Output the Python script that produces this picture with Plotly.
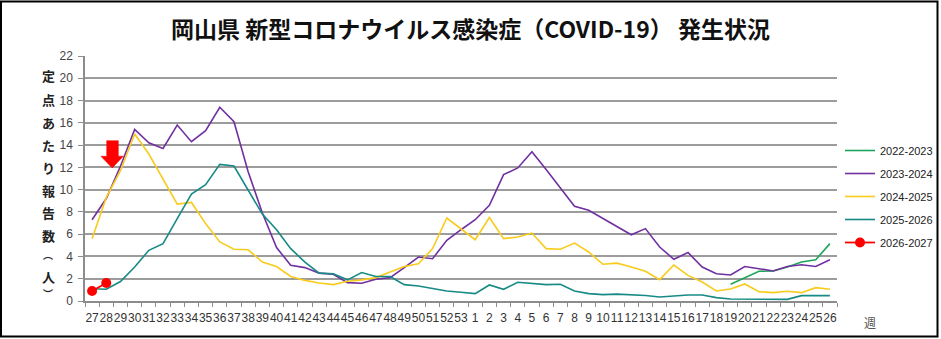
import plotly.graph_objects as go

week_labels = ["27", "28", "29", "30", "31", "32", "33", "34", "35", "36", "37", "38", "39", "40",
               "41", "42", "43", "44", "45", "46", "47", "48", "49", "50", "51", "52", "53",
               "1", "2", "3", "4", "5", "6", "7", "8", "9", "10", "11", "12", "13", "14", "15",
               "16", "17", "18", "19", "20", "21", "22", "23", "24", "25", "26"]

s2022_2023 = [None] * 45 + [1.5, 2.1, 2.67, 2.7, 3.05, 3.5, 3.7, 5.15]

s2023_2024 = [7.3, 9.2, 12.1, 15.4, 14.2, 13.7, 15.8, 14.3, 15.3, 17.4, 16.1, 11.6, 7.9, 4.8,
              3.2, 3.0, 2.5, 2.4, 1.65, 1.6, 1.95, 2.1, 3.0, 3.95, 3.8, 5.45, 6.4,
              7.3, 8.6, 11.35, 11.95, 13.4, 11.8, 10.1, 8.5, 8.15, 7.4, 6.7, 5.95, 6.5, 4.85,
              3.75, 4.35, 3.05, 2.45, 2.33, 3.1, 2.9, 2.7, 3.1, 3.25, 3.1, 3.7]

s2024_2025 = [5.6, 9.3, 11.7, 15.0, 13.2, 11.0, 8.7, 8.85, 6.95, 5.3, 4.65, 4.6, 3.5, 3.1,
              2.2, 1.85, 1.62, 1.47, 1.77, 1.9, 2.1, 2.6, 3.1, 3.35, 4.7, 7.45, 6.5,
              5.5, 7.5, 5.6, 5.75, 6.1, 4.7, 4.65, 5.2, 4.4, 3.3, 3.4, 3.05, 2.67, 1.92,
              3.23, 2.3, 1.7, 0.9, 1.08, 1.53, 0.84, 0.75, 0.87, 0.75, 1.2, 1.05]

s2025_2026 = [1.1, 1.05, 1.75, 3.05, 4.55, 5.15, 7.4, 9.6, 10.45, 12.27, 12.12, 9.95, 7.8, 6.4,
              4.7, 3.5, 2.5, 2.45, 1.9, 2.55, 2.2, 2.2, 1.47, 1.35, 1.1, 0.9, 0.78,
              0.66, 1.44, 1.05, 1.68, 1.55, 1.47, 1.5, 0.9, 0.66, 0.57, 0.62, 0.57, 0.5, 0.36,
              0.48, 0.54, 0.54, 0.3, 0.18, 0.18, 0.15, 0.18, 0.15, 0.48, 0.48, 0.48]

s2026_2027 = [0.9, 1.62]

series_names = ["2022-2023", "2023-2024", "2024-2025", "2025-2026", "2026-2027"]
series_colors = ["#1fa55a", "#7030a0", "#f8cb1c", "#178a86", "#ff0000"]

y_ticks = [0, 2, 4, 6, 8, 10, 12, 14, 16, 18, 20, 22]
y_title_chars = ["定", "点", "あ", "た", "り", "報", "告", "数", "︵", "人", "︶"]

title_text = "岡山県 新型コロナウイルス感染症（COVID-19） 発生状況"

xs = list(range(len(week_labels)))

fig = go.Figure()
all_series = [s2022_2023, s2023_2024, s2024_2025, s2025_2026, s2026_2027]
for i, (name, vals, col) in enumerate(zip(series_names, all_series, series_colors)):
    if name == "2026-2027":
        fig.add_trace(go.Scatter(x=xs[:len(vals)], y=vals, name=name, mode="lines+markers",
                                 line=dict(color=col, width=1.8),
                                 marker=dict(color=col, size=10),
                                 legendgroup=name))
    else:
        fig.add_trace(go.Scatter(x=xs[:len(vals)], y=vals, name=name, mode="lines",
                                 line=dict(color=col, width=1.6),
                                 legendgroup=name, connectgaps=False))

# plot area geometry
L, R, T, B = 85, 104, 56, 38
W, H = 941, 339
pw, ph = W - L - R, H - T - B


def px_x(x):
    return (x - L) / pw


def px_y(y):
    return (H - B - y) / ph


annotations = []
y_title_pos = [75, 99.3, 122.7, 145.7, 167.3, 190, 212.7, 235, 254.5, 276.7, 293]
y_title_size = [13, 13, 13, 13, 13, 13, 13, 13, 10, 13, 10]
for ch, yy, sz in zip(y_title_chars, y_title_pos, y_title_size):
    annotations.append(dict(text="<b>" + ch + "</b>", xref="paper", yref="paper",
                            x=px_x(48), y=px_y(yy), xanchor="center", yanchor="middle",
                            showarrow=False,
                            font=dict(family="Noto Sans CJK JP", size=sz, color="#222222")))
annotations.append(dict(text="週", xref="paper", yref="paper", x=px_x(870), y=px_y(322),
                        xanchor="center", yanchor="middle", showarrow=False,
                        font=dict(family="Noto Sans CJK JP", size=12, color="#555555")))

shapes = [
    # outer frame
    dict(type="rect", xref="paper", yref="paper",
         x0=px_x(1), x1=px_x(937.5), y0=px_y(336.5), y1=px_y(1.5),
         line=dict(color="#000000", width=2), fillcolor="rgba(0,0,0,0)", layer="above"),
    # red block arrow
    dict(type="path", xref="x", yref="y",
         path="M 1.03 14.4 L 1.85 14.4 L 1.85 13.0 L 2.2 13.0 L 1.42 11.95 L 0.62 13.0 L 1.03 13.0 Z",
         fillcolor="#ff0000", line=dict(color="#ff0000", width=0.5), layer="above"),
]

fig.update_layout(
    width=W, height=H,
    margin=dict(l=L, r=R, t=T, b=B, pad=0, autoexpand=False),
    paper_bgcolor="white", plot_bgcolor="white",
    title=dict(text="<b>" + title_text + "</b>", x=0.5, xanchor="center",
               y=1 - 30 / H, yanchor="middle", yref="container",
               font=dict(family="Noto Sans CJK JP", size=23, color="#111111")),
    xaxis=dict(range=[-0.5, len(week_labels) - 0.5], tickmode="array", tickvals=xs,
               ticktext=week_labels, tickangle=0, ticks="", showgrid=False, zeroline=False,
               showline=True, linecolor="#8c8c8c", linewidth=1.5, ticklabelstandoff=5,
               tickfont=dict(family="Liberation Sans", size=12, color="#333333"),
               minor=dict(tickmode="linear", tick0=-0.5, dtick=1, ticks="outside",
                          ticklen=4, tickcolor="#8c8c8c", showgrid=False)),
    yaxis=dict(range=[0, 22], tickmode="array", tickvals=y_ticks, ticks="outside",
               ticklen=5, tickcolor="#8c8c8c", showgrid=True, gridcolor="#9c9c9c",
               gridwidth=1.8, zeroline=False, showline=True, linecolor="#8c8c8c",
               linewidth=1.5, ticklabelstandoff=3,
               tickfont=dict(family="Liberation Sans", size=12, color="#444444")),
    legend=dict(x=px_x(840), y=px_y(136), xanchor="left", yanchor="top",
                traceorder="grouped", tracegroupgap=4, itemwidth=30,
                font=dict(family="Liberation Sans", size=11, color="#222222"),
                bgcolor="rgba(0,0,0,0)"),
    annotations=annotations,
    shapes=shapes,
    showlegend=True,
)

fig.write_html("out.html")
